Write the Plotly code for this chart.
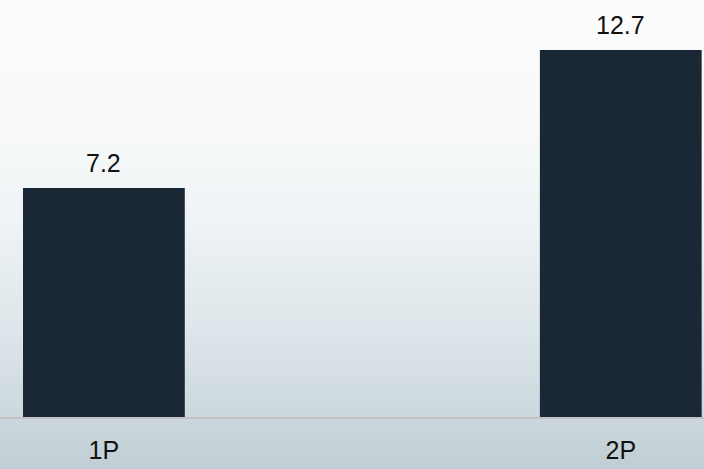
import plotly.graph_objects as go

# Reserve categories and their volumes
categories = ["1P", "2P"]
values = [7.2, 12.7]
value_labels = ["7.2", "12.7"]

# Floor of the value axis; bars rise from here to their value
AXIS_FLOOR = -1.93
AXIS_CEIL = 14.69

W, H = 704, 469
MARGIN_B = 52
PLOT_H = H - MARGIN_B

BAR_COLOR = "#1a2836"
FONT = dict(family="Liberation Sans, Arial, sans-serif", size=25, color="#111111")

# Vertical background wash: (pixel row from top, rgb)
bg_stops = [
    (0, (251, 252, 252)),
    (130, (248, 250, 250)),
    (230, (237, 242, 244)),
    (330, (221, 230, 234)),
    (416, (204, 216, 222)),
    (469, (192, 206, 212)),
]


def bg_color(py):
    for (p0, c0), (p1, c1) in zip(bg_stops, bg_stops[1:]):
        if p0 <= py <= p1:
            t = (py - p0) / (p1 - p0)
            r, g, b = (round(a + (b_ - a) * t) for a, b_ in zip(c0, c1))
            return f"rgb({r},{g},{b})"
    return "rgb(%d,%d,%d)" % bg_stops[-1][1]


shapes = []
step = 3
for top in range(0, H, step):
    bottom = min(top + step, H)
    shapes.append(dict(
        type="rect", xref="paper", yref="paper", layer="below",
        x0=-0.01, x1=1.01,
        y0=(PLOT_H - bottom) / PLOT_H, y1=(PLOT_H - top) / PLOT_H,
        fillcolor=bg_color((top + bottom) / 2), line=dict(width=0),
    ))

fig = go.Figure(go.Bar(
    x=categories,
    y=[v - AXIS_FLOOR for v in values],
    base=AXIS_FLOOR,
    width=0.313,
    marker=dict(color=BAR_COLOR, line=dict(width=0)),
    hoverinfo="skip",
))

# Value labels sitting above each bar
annotations = [
    dict(x=c, y=v, text=t, showarrow=False, xref="x", yref="y",
         yanchor="bottom", yshift=9, font=FONT)
    for c, v, t in zip(categories, values, value_labels)
]

fig.update_layout(
    width=W, height=H,
    margin=dict(l=0, r=0, t=0, b=MARGIN_B),
    paper_bgcolor="rgb(192,206,212)",
    plot_bgcolor="rgba(0,0,0,0)",
    showlegend=False,
    shapes=shapes,
    annotations=annotations,
    xaxis=dict(
        range=[-0.201, 1.161],
        showgrid=False, zeroline=False,
        showline=True, linecolor="#c2c3c1", linewidth=2,
        ticks="", ticklabelstandoff=10,
        tickfont=FONT,
    ),
    yaxis=dict(
        range=[AXIS_FLOOR, AXIS_CEIL],
        visible=False, showgrid=False, zeroline=False,
    ),
)

fig.write_html("out.html")
